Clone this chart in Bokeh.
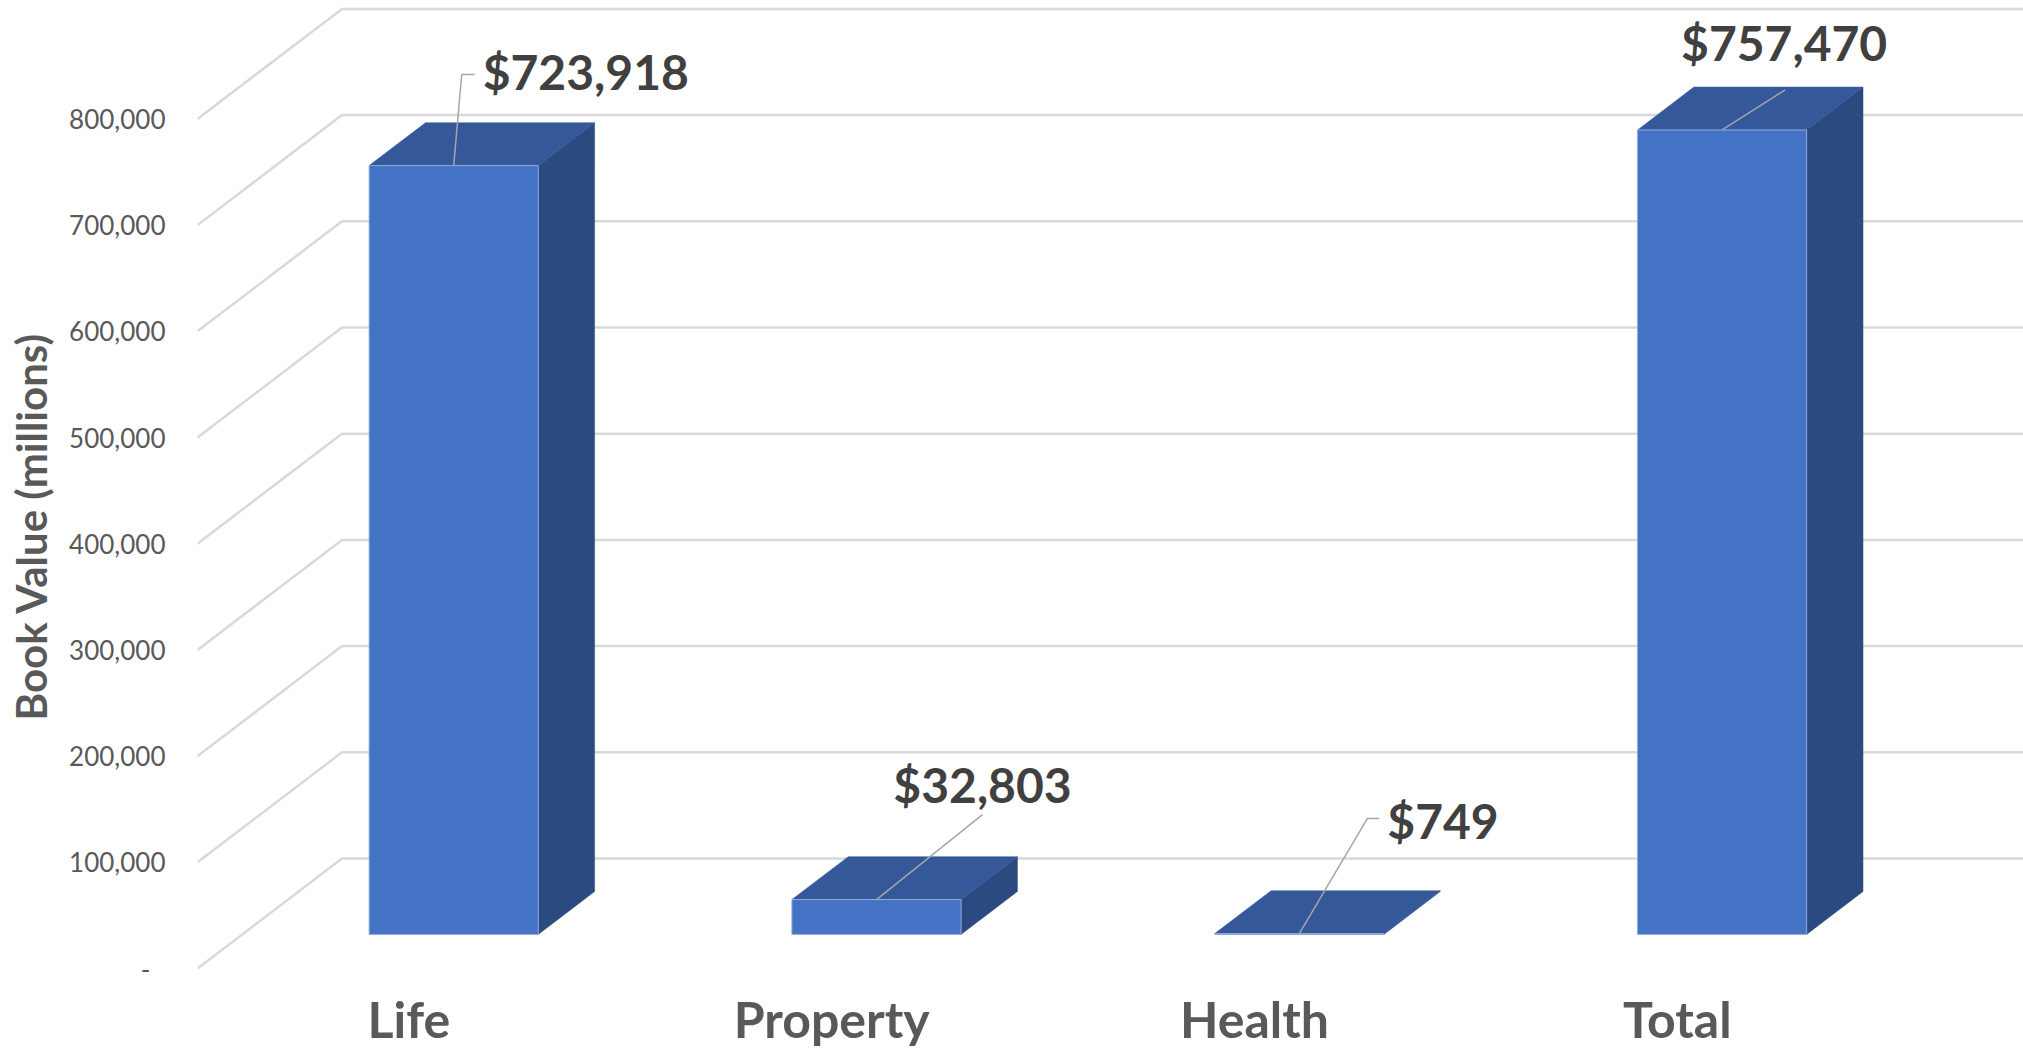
from bokeh.plotting import figure
from bokeh.models import Range1d, FixedTicker
from bokeh.core.properties import value
from bokeh.embed import file_html
from bokeh.resources import INLINE

# ---------------- data ----------------
categories = ["Life", "Property", "Health", "Total"]
book_values = [723918, 32803, 749, 757470]
y_ticks = [0, 100000, 200000, 300000, 400000, 500000, 600000, 700000, 800000]
y_tick_labels = ["-\u2007", "100,000", "200,000", "300,000", "400,000",
                 "500,000", "600,000", "700,000", "800,000"]
y_axis_title = "Book Value (millions)"

# ---------------- layout / style ----------------
W, H = 2023, 1052
LEFT = 197
PX_PER_CAT = 422.8
PX_PER_100K = 106.2
VPP = 100000 / PX_PER_100K          # value units per pixel
ZERO_FROM_TOP = 968                  # canvas px of value 0 (front edge)
x_end = (W - LEFT) / PX_PER_CAT
y_end = ZERO_FROM_TOP * VPP
y_start = -(H - ZERO_FROM_TOP) * VPP
DX = 144.5 / PX_PER_CAT              # depth vector (category units)
DY = 110 * VPP                       # depth vector (value units)
D0, D1 = 0.31, 0.70                  # bar depth span
BAR_L, BAR_R = 0.3, 0.7              # bar span inside slot

FRONT = "#4472C4"
TOPC = "#34589A"
SIDE = "#2B4A7F"
GRID = "#D9D9D9"
LABEL_COLOR = "#404040"
AXIS_COLOR = "#595959"
FONT = "Lato"

# leader line points / label positions relative to bar front-top midpoint (px, screen y down)
leader_px = [[(0, 0), (8, -91), (21, -91)],
             [(0, 0), (106, -85)],
             [(0, 0), (68, -115), (80, -115)],
             [(0, 0), (63, -40)]]
label_px = [(29, -94), (106, -115), (88, -113), (62, -87)]
label_align = ["left", "center", "left", "center"]
CAT_LABEL_DROP_PX = 50

p = figure(width=W, height=H, x_range=Range1d(0, x_end), y_range=Range1d(y_start, y_end),
           output_backend="svg", toolbar_location=None,
           min_border_left=LEFT, min_border_right=0, min_border_top=0, min_border_bottom=0)
p.outline_line_color = None
p.xgrid.visible = False
p.ygrid.visible = False
p.xaxis.visible = False
p.background_fill_color = "white"
p.border_fill_color = "white"

# y axis
ya = p.yaxis[0]
ya.ticker = FixedTicker(ticks=y_ticks)
ya.major_label_overrides = {t: l for t, l in zip(y_ticks, y_tick_labels)}
ya.axis_line_color = None
ya.major_tick_line_color = None
ya.minor_tick_line_color = None
ya.major_tick_out = 0
ya.major_tick_in = 0
ya.major_label_standoff = 32
ya.major_label_text_font = FONT
ya.major_label_text_font_size = "26px"
ya.major_label_text_color = AXIS_COLOR
ya.axis_label = y_axis_title
ya.axis_label_text_font = FONT
ya.axis_label_text_font_style = "bold"
ya.axis_label_text_font_size = "42px"
ya.axis_label_text_color = AXIS_COLOR
ya.axis_label_standoff = 10

# perspective gridlines: front-left diagonal + back wall
grid_xs = [[0, DX, x_end + 1] for v in y_ticks]
grid_ys = [[v, v + DY, v + DY] for v in y_ticks]
p.multi_line(grid_xs, grid_ys, line_color=GRID, line_width=2.5)

# 3D bars
front_l, front_r, front_b, front_t = [], [], [], []
top_xs, top_ys, side_xs, side_ys = [], [], [], []
for i, v in enumerate(book_values):
    xl0 = i + BAR_L + D0 * DX
    xr0 = i + BAR_R + D0 * DX
    xl1 = i + BAR_L + D1 * DX
    xr1 = i + BAR_R + D1 * DX
    b0, b1 = D0 * DY, D1 * DY
    front_l.append(xl0); front_r.append(xr0); front_b.append(b0); front_t.append(v + b0)
    top_xs.append([xl0, xr0, xr1, xl1]); top_ys.append([v + b0, v + b0, v + b1, v + b1])
    side_xs.append([xr0, xr1, xr1, xr0]); side_ys.append([b0, b1, v + b1, v + b0])

p.patches(side_xs, side_ys, fill_color=SIDE, line_color=SIDE, line_width=0.5)
p.patches(top_xs, top_ys, fill_color=TOPC, line_color=TOPC, line_width=0.5)
p.quad(left=front_l, right=front_r, bottom=front_b, top=front_t,
       fill_color=FRONT, line_color="#8FA9D9", line_width=1)

# leader lines and value labels
lead_xs, lead_ys = [], []
for i, v in enumerate(book_values):
    ax = i + 0.5 + D0 * DX
    ay = v + D0 * DY
    lead_xs.append([ax + dx / PX_PER_CAT for dx, dy in leader_px[i]])
    lead_ys.append([ay - dy * VPP for dx, dy in leader_px[i]])
p.multi_line(lead_xs, lead_ys, line_color="#A6A6A6", line_width=1.5)

for align in ("left", "center"):
    xs, ys, ts = [], [], []
    for i, v in enumerate(book_values):
        if label_align[i] != align:
            continue
        ax = i + 0.5 + D0 * DX
        ay = v + D0 * DY
        xs.append(ax + label_px[i][0] / PX_PER_CAT)
        ys.append(ay - label_px[i][1] * VPP)
        ts.append("$" + f"{v:,}")
    p.text(xs, ys, text=ts, text_align=align, text_baseline="middle",
           text_font=value(FONT), text_font_style="bold", text_font_size="48px",
           text_color=LABEL_COLOR)

# category labels along the front floor edge
p.text([i + 0.5 for i in range(len(categories))],
       [-CAT_LABEL_DROP_PX * VPP] * len(categories),
       text=categories, text_align="center", text_baseline="middle",
       text_font=value(FONT), text_font_style="bold", text_font_size="50px",
       text_color=AXIS_COLOR)

open("out.html", "w").write(file_html(p, INLINE))
